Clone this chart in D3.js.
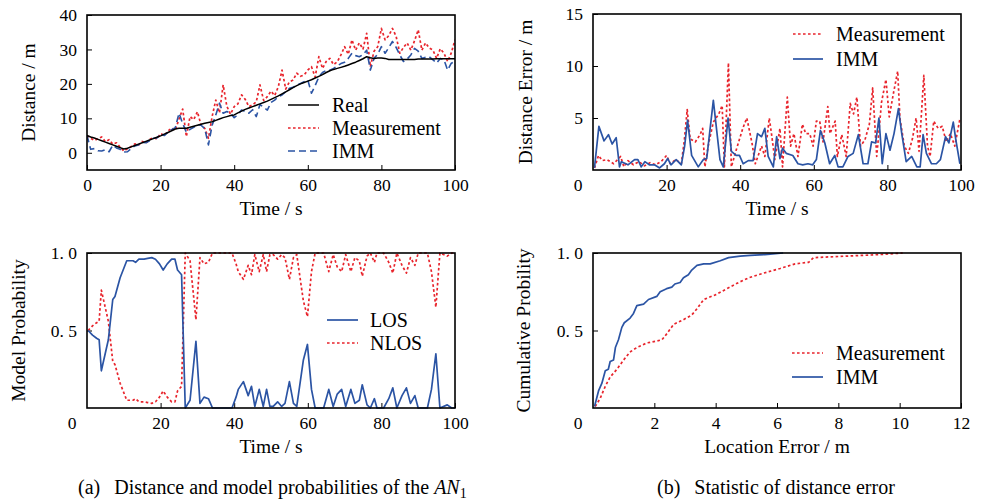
<!DOCTYPE html>
<html><head><meta charset="utf-8">
<script src="https://cdn.jsdelivr.net/npm/d3@7"></script>
<style>
body{margin:0;background:#fff}
svg{display:block}
text{font-family:"Liberation Serif","Times New Roman",serif;fill:#000}
</style>
</head><body>
<svg id="c" width="981" height="502"></svg>
<script>
// ---------- Panel (a) top: distance vs time ----------
const timeA = d3.range(0, 101);
const realDist = [5.0,4.6,4.3,3.9,3.5,3.1,2.7,2.3,1.9,1.5,1.1,1.3,1.7,2.1,2.5,2.9,3.3,3.7,4.1,4.5,
  4.9,5.4,5.9,6.4,6.9,7.1,7.1,7.1,7.4,7.7,8.0,8.3,8.6,8.8,9.0,9.4,9.8,10.2,10.5,10.8,
  11.0,11.6,12.1,12.6,13.0,13.4,13.8,14.2,14.6,15.0,15.5,16.0,16.5,17.1,17.7,18.3,18.9,19.5,20.0,20.4,
  20.8,21.2,21.7,22.2,22.7,23.3,23.8,24.2,24.5,24.8,25.1,25.5,25.9,26.3,26.8,27.3,27.9,27.6,27.4,27.5,
  27.5,27.4,27.1,27.1,27.1,27.1,27.1,27.1,27.1,27.1,27.2,27.2,27.2,27.2,27.2,27.3,27.3,27.3,27.3,27.3,27.3];
const measDist = [5.0,4.2,3.6,4.1,4.6,3.2,3.8,2.5,2.9,1.6,0.5,1.2,1.8,2.6,2.2,3.3,2.8,3.9,4.4,4.0,
  5.6,5.0,6.3,7.2,6.5,9.8,12.7,4.7,10.5,9.6,11.9,8.0,7.1,4.2,10.5,15.3,11.6,19.7,13.5,11.2,
  13.4,14.2,16.8,15.5,13.4,13.9,14.8,19.7,15.2,16.3,17.9,16.6,19.2,24.0,18.5,20.6,21.1,23.1,22.2,22.6,
  24.0,25.0,22.0,27.9,24.5,26.5,27.4,25.6,26.4,28.4,30.8,28.6,32.8,29.8,31.9,30.1,34.7,25.0,29.5,30.8,
  36.1,32.8,34.0,36.1,33.8,28.9,30.6,31.9,29.8,32.5,35.7,29.8,31.9,30.4,29.8,27.4,30.2,28.9,26.5,29.0,32.8];
const immDist = [5.0,1.0,1.2,0.6,0.5,0.9,0.3,2.2,1.4,1.0,0.2,0.3,1.2,2.0,2.3,3.0,2.9,3.5,4.2,4.3,
  5.5,5.0,6.0,6.7,7.3,11.5,8.5,6.0,6.8,7.4,8.2,8.0,7.0,2.3,8.0,11.0,14.4,11.5,12.0,11.5,
  10.2,11.0,12.4,12.0,11.5,12.5,10.5,14.0,13.2,12.4,14.6,15.3,16.3,16.8,17.7,18.7,19.0,19.7,20.1,20.6,
  21.1,17.3,19.5,22.0,23.3,23.9,24.0,24.5,25.2,25.9,26.3,27.4,28.9,28.2,27.9,28.5,29.8,24.0,27.4,28.6,
  30.8,28.9,30.5,32.3,30.6,28.4,26.5,27.2,28.4,30.3,29.5,27.4,27.7,27.9,27.0,26.0,27.4,27.0,24.0,26.0,26.5];

// ---------- Panel (b) top: distance error vs time ----------
const errImmT = [0.4,1.6,3,4.2,5.2,6.3,7.2,7.7,9.5,11.3,12.2,13.1,14.1,15.3,16.7,18.1,19.4,20.3,21.2,22.6,
  24,24.9,25.7,26.8,28.6,30,30.9,32.7,34.5,35.4,36.7,37.6,38.9,39.8,40.8,42.2,43.5,44.7,45.8,46.7,
  47.6,49,49.9,50.8,51.5,52.5,54.3,55.7,57,58.4,59.7,60.7,61.8,63,64.3,65.7,66.6,67.9,69.3,70.7,
  72.1,73.4,74.7,75.7,76.8,77.7,78.6,79.6,80.7,81.8,83,83.9,85.1,86.6,88,88.9,89.7,90.6,92,93.3,
  94.4,95.8,96.7,97.9,98.6,99.7];
const errImm = [0.2,4.2,2.8,3.4,2.5,3.1,0.3,0.8,0.5,1.0,1.0,0.3,0.8,0.5,0.5,0.2,0.6,1.1,0.5,1.0,
  0.5,2.3,4.8,1.4,0.3,1.0,1.1,6.7,1.0,0.3,5.0,1.8,1.4,1.4,0.6,0.9,0.9,3.5,3.2,4.0,
  1.3,0.3,3.2,1.1,2.1,1.6,1.4,0.6,0.5,0.6,0.5,1.0,3.8,2.6,0.6,1.4,0.3,0.3,1.3,1.6,
  3.4,0.6,0.6,2.7,2.6,5.0,0.6,3.5,1.9,3.5,5.9,3.5,0.8,1.3,0.3,0.3,3.4,1.6,0.6,0.6,
  1.0,3.2,2.6,4.6,2.9,0.6];
const errMeasT = [0.4,1.5,2.5,3.8,5.6,7.5,8.4,9.5,11,12.5,14,15.5,17,18.5,20,21,22.5,24,24.8,25.6,
  26.4,27.8,29.1,29.8,30.4,31.4,32.7,34.2,35.1,35.7,36.8,37.6,38.9,40.7,41.8,43.2,44.1,45.8,46.7,47.9,
  48.5,49.4,50.8,51.5,52.8,53.7,54.6,55.7,56.9,57.8,58.9,59.8,60.7,61.6,62.5,63.8,64.4,65.8,66.4,67.6,
  68.8,69.9,70.8,71.7,72.7,73.9,75.1,76,77.1,78.4,79.6,80.5,81.6,82.8,83.4,84.6,85.7,86.8,87.8,88.6,
  89.9,90.9,91.6,92.6,93.8,94.9,96,97.1,98.3,99.7];
const errMeas = [0.2,1.4,0.9,1.0,0.6,1.3,0.3,0.9,0.5,0.8,0.4,0.7,0.5,0.8,1.4,0.6,1.0,0.6,2.8,5.8,
  3.0,2.7,3.4,4.0,0.3,2.5,4.6,5.4,6.2,0.3,10.3,0.3,1.9,4.0,5.0,2.6,0.6,2.3,1.3,5.0,
  3.5,1.0,4.0,0.3,7.0,2.3,3.5,1.3,4.4,3.5,3.5,2.3,4.7,4.7,2.7,6.1,3.5,4.7,1.3,3.4,
  1.3,6.4,5.4,7.0,2.3,2.9,4.4,7.9,1.3,6.5,8.7,5.1,7.3,9.5,5.0,2.3,1.6,3.0,5.0,1.8,
  9.1,2.3,1.3,4.7,4.0,4.2,2.7,3.5,2.3,4.9];

// ---------- Panel (a) bottom: model probabilities ----------
const probT = [0.3,1.5,2.6,3.3,3.9,5.8,7,7.6,9,10.8,12.5,13.2,14.1,15.5,16.5,17.6,18.6,19.7,20.7,21.8,
  23,23.9,24.6,25.7,26.7,28,29.6,30.7,31.8,33,34.1,39.4,40.5,41.1,42.5,43.8,44.7,45.6,46.8,47.9,
  48.8,49.7,50.6,51.8,52.9,53.8,55,56.1,57,58.8,59.9,61,62,64.3,65.7,66.9,68,69.2,70.3,71.7,
  72.8,74,74.8,76.1,77,78.1,78.8,80.6,82,83.1,84.2,85.6,86.8,87.9,89.1,90,92.5,93.6,94.8,95.9,
  97.9,99.1,100];
const losP = [0.50,0.47,0.45,0.44,0.24,0.44,0.70,0.72,0.84,0.95,0.95,0.94,0.96,0.96,0.965,0.97,0.96,0.93,0.89,0.93,
  0.96,0.96,0.89,0.86,0.0,0.05,0.43,0.03,0.07,0.06,0.0,0.0,0.07,0.12,0.17,0.08,0.14,0.01,0.12,0.01,
  0.12,0.01,0.01,0.04,0.01,0.03,0.17,0.03,0.01,0.31,0.41,0.12,0.0,0.0,0.12,0.01,0.09,0.12,0.01,0.12,
  0.03,0.05,0.15,0.02,0.0,0.06,0.0,0.0,0.06,0.13,0.0,0.08,0.13,0.03,0.08,0.0,0.0,0.12,0.35,0.0,
  0.02,0.0,0.0];
const nlosP = [0.50,0.53,0.55,0.56,0.76,0.56,0.30,0.28,0.16,0.05,0.05,0.06,0.04,0.04,0.035,0.03,0.04,0.07,0.11,0.07,
  0.04,0.04,0.11,0.14,1.0,0.95,0.57,0.97,0.93,0.94,1.0,1.0,0.93,0.88,0.83,0.92,0.86,0.99,0.88,0.99,
  0.88,0.99,0.99,0.96,0.99,0.97,0.83,0.97,0.99,0.69,0.59,0.88,1.0,1.0,0.88,0.99,0.91,0.88,0.99,0.88,
  0.97,0.95,0.85,0.98,1.0,0.94,1.0,1.0,0.94,0.87,1.0,0.92,0.87,0.97,0.92,1.0,1.0,0.88,0.65,1.0,
  0.98,1.0,1.0];

// ---------- Panel (b) bottom: cumulative probability ----------
const cdfImmE = [0.05,0.18,0.29,0.4,0.5,0.56,0.67,0.73,0.83,0.94,1.02,1.21,1.32,1.43,1.65,1.81,2.08,2.19,2.4,2.57,
  2.67,2.84,2.95,3.11,3.22,3.39,3.61,3.82,4.15,4.42,4.8,5.13,5.6,6.2];
const cdfImmP = [0.01,0.11,0.16,0.24,0.25,0.3,0.31,0.39,0.44,0.52,0.55,0.58,0.61,0.66,0.67,0.7,0.72,0.75,0.77,0.78,
  0.8,0.81,0.84,0.86,0.89,0.92,0.93,0.93,0.95,0.97,0.98,0.985,0.99,1.0];
const cdfMeasE = [0.07,0.23,0.4,0.56,0.78,1.0,1.2,1.43,1.76,2.03,2.25,2.41,2.63,2.95,3.22,3.39,3.61,3.99,4.37,4.75,
  5.08,5.56,6.1,6.59,7.03,7.19,7.73,8.82,9.36,10.1];
const cdfMeasP = [0.01,0.06,0.14,0.2,0.25,0.31,0.36,0.39,0.42,0.43,0.44,0.48,0.54,0.57,0.6,0.64,0.7,0.73,0.77,0.81,
  0.84,0.87,0.9,0.93,0.94,0.97,0.975,0.985,0.99,1.0];

// ---------- tick labels ----------
const ticksAx = [0,20,40,60,80,100], ticksAy = [0,10,20,30,40];
const ticksBx = [20,40,60,80,100], ticksBy = [5,10,15];
const ticksCx = [20,40,60,80,100], ticksCy = [0.5,1.0];
const ticksDx = [2,4,6,8,10,12], ticksDy = [0.5,1.0];
const probLabels = {0.5:"0. 5", 1:"1. 0"};

const RED = "#e8242c", BLUE = "#2b54a4";
const svg = d3.select("#c");

function panel(c){
  const x = d3.scaleLinear().domain(c.xd).range([c.l, c.r]);
  const y = d3.scaleLinear().domain(c.yd).range([c.b, c.t]);
  const g = svg.append("g");
  const ax = g.append("g").attr("transform", `translate(0,${c.b})`)
    .call(d3.axisBottom(x).tickValues(c.xt).tickSizeInner(-5).tickSizeOuter(0).tickPadding(9)
      .tickFormat(c.xf || d3.format("d")));
  const ay = g.append("g").attr("transform", `translate(${c.l},0)`)
    .call(d3.axisLeft(y).tickValues(c.yt).tickSizeInner(-5).tickSizeOuter(0).tickPadding(10)
      .tickFormat(c.yf || d3.format("d")));
  [ax, ay].forEach(a => {
    a.select(".domain").remove();
    a.selectAll("text").attr("font-size", 17.5).attr("font-family", '"Liberation Serif","Times New Roman",serif').attr("fill","#000");
    a.selectAll("line").attr("stroke", "#000").attr("stroke-width", 1);
  });
  if (c.corner) {
    g.append("text").attr("x", c.l - 15).attr("y", c.b + 21).attr("text-anchor","middle")
      .attr("font-size", 17.5).text("0");
  }
  g.append("clipPath").attr("id", c.id).append("rect")
    .attr("x", c.l).attr("y", c.t - 2).attr("width", c.r - c.l).attr("height", c.b - c.t + 4);
  const lines = g.append("g").attr("clip-path", `url(#${c.id})`);
  g.append("rect").attr("x", c.l).attr("y", c.t).attr("width", c.r - c.l).attr("height", c.b - c.t)
    .attr("fill", "none").attr("stroke", "#000").attr("stroke-width", 1.6);
  // titles
  g.append("text").attr("x", (c.l + c.r)/2).attr("y", c.b + 45).attr("text-anchor","middle")
    .attr("font-size", 19.5).text(c.xTitle);
  g.append("text").attr("transform", `translate(${c.yTitleX},${(c.t + c.b)/2}) rotate(-90)`)
    .attr("text-anchor","middle").attr("dominant-baseline","central").attr("font-size", 19.5).text(c.yTitle);
  return {x, y, g, lines};
}

const STY = {
  red: {stroke: RED, width: 1.7, dash: "2.6,2.4"},
  blueDash: {stroke: BLUE, width: 1.6, dash: "7,4"},
  blue: {stroke: BLUE, width: 1.7, dash: null},
  black: {stroke: "#000", width: 1.5, dash: null}
};

function drawLine(p, xs, ys, s){
  const line = d3.line().x(d => p.x(d[0])).y(d => p.y(d[1]));
  p.lines.append("path").datum(d3.zip(xs, ys)).attr("d", line)
    .attr("fill","none").attr("stroke", s.stroke).attr("stroke-width", s.width)
    .attr("stroke-dasharray", s.dash).attr("stroke-linejoin","round");
}

function legend(p, x1, x2, tx, items){
  items.forEach(it => {
    p.g.append("line").attr("x1", x1).attr("x2", x2).attr("y1", it.y).attr("y2", it.y)
      .attr("stroke", it.s.stroke).attr("stroke-width", it.s.width).attr("stroke-dasharray", it.s.dash);
    p.g.append("text").attr("x", tx).attr("y", it.y).attr("dominant-baseline","central")
      .attr("font-size", 20).text(it.label);
  });
}

// Panel A
const pA = panel({id:"cA", l:87, r:455, t:15, b:170, xd:[0,100], yd:[-5,40], xt:ticksAx, yt:ticksAy,
  xTitle:"Time / s", yTitle:"Distance / m", yTitleX:28});
drawLine(pA, timeA, measDist, STY.red);
drawLine(pA, timeA, immDist, STY.blueDash);
drawLine(pA, timeA, realDist, STY.black);
legend(pA, 288, 319, 332, [{y:105, s:STY.black, label:"Real"},{y:128, s:STY.red, label:"Measurement"},{y:151, s:STY.blueDash, label:"IMM"}]);

// Panel B
const pB = panel({id:"cB", l:593, r:961, t:14, b:170, xd:[0,100], yd:[0,15], xt:ticksBx, yt:ticksBy, corner:true,
  xTitle:"Time / s", yTitle:"Distance Error / m", yTitleX:525});
drawLine(pB, errMeasT, errMeas, STY.red);
drawLine(pB, errImmT, errImm, STY.blue);
legend(pB, 793, 823, 836, [{y:34, s:STY.red, label:"Measurement"},{y:59, s:STY.blue, label:"IMM"}]);

// Panel C
const pC = panel({id:"cC", l:87, r:455, t:253, b:408, xd:[0,100], yd:[0,1], xt:ticksCx, yt:ticksCy, corner:true,
  yf: d => probLabels[d], xTitle:"Time / s", yTitle:"Model Probability", yTitleX:18});
drawLine(pC, probT, nlosP, STY.red);
drawLine(pC, probT, losP, STY.blue);
legend(pC, 327, 358, 370, [{y:320, s:STY.blue, label:"LOS"},{y:343, s:STY.red, label:"NLOS"}]);

// Panel D
const pD = panel({id:"cD", l:593, r:961, t:253, b:408, xd:[0,12], yd:[0,1], xt:ticksDx, yt:ticksDy, corner:true,
  yf: d => probLabels[d], xTitle:"Location Error / m", yTitle:"Cumulative Probility", yTitleX:523});
drawLine(pD, cdfMeasE, cdfMeasP, STY.red);
drawLine(pD, cdfImmE, cdfImmP, STY.blue);
legend(pD, 792, 823, 836, [{y:353, s:STY.red, label:"Measurement"},{y:377, s:STY.blue, label:"IMM"}]);

// captions
const capA = svg.append("text").attr("x", 78).attr("y", 494).attr("font-size", 20);
capA.append("tspan").text("(a)");
capA.append("tspan").attr("dx", 14).text("Distance and model probabilities of the ");
capA.append("tspan").attr("font-style","italic").text("AN");
capA.append("tspan").attr("font-size", 14).attr("dy", 4).text("1");
const capB = svg.append("text").attr("x", 657).attr("y", 494).attr("font-size", 20);
capB.append("tspan").text("(b)");
capB.append("tspan").attr("dx", 14).text("Statistic of distance error");
</script>
</body></html>
